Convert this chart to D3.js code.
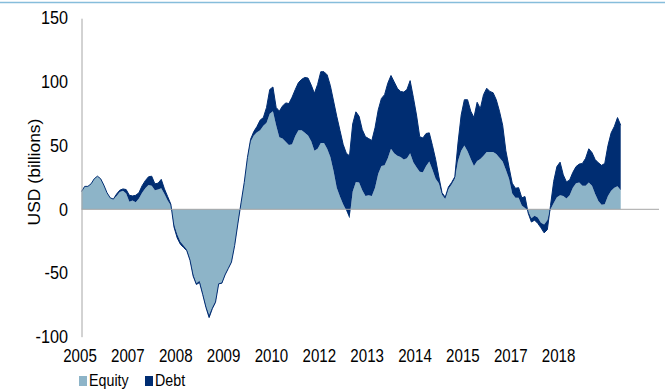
<!DOCTYPE html>
<html>
<head>
<meta charset="utf-8">
<script src="https://cdn.jsdelivr.net/npm/d3@7/dist/d3.min.js"></script>
<style>
  html, body { margin: 0; padding: 0; background: #ffffff; }
  svg { display: block; font-family: "Liberation Sans", Arial, sans-serif; }
</style>
</head>
<body>
<svg id="chart" width="665" height="389"></svg>
<script>
// Monthly net flows, USD billions (index 0 = Dec 2005)
const equity = [
  14, 18, 18, 20, 24, 26, 24, 19, 13, 9,
  8, 10.5, 13.5, 14.5, 12.5, 6, 7, 5.5, 8.5, 13,
  16.5, 19, 18.5, 15, 15.5, 16.5, 12, 7, 3, -12,
  -19.5, -25.5, -28.5, -31.5, -39, -51, -58, -56, -66, -76,
  -83, -77, -72, -58, -57.5, -51, -46, -41, -28, -11,
  5, 21, 40, 53, 58, 60.5, 62, 65.5, 68, 75,
  77, 66, 56.5, 55.5, 53, 50.5, 51, 57.5, 62, 62,
  60, 58, 53.5, 46, 47.5, 52, 52, 47.5, 41, 30,
  17, 10, 4, -1, -7, 14, 21.5, 21, 15, 10.5,
  11, 10.5, 17, 28, 34, 34.5, 40, 47.5, 44, 42,
  41, 39, 40, 44, 37, 33, 29.5, 29, 34, 37.5,
  31, 24, 20.5, 11.5, 8, 16, 19.5, 24, 38, 46,
  50, 45.5, 39.5, 34, 38, 39.5, 42, 45, 45, 45,
  43.5, 40.5, 37.5, 31, 24, 12.5, 9, 9, 3, 1,
  -1.5, -7, -5, -6.5, -10.5, -12, -8.5, 0, 5, 9.5,
  11, 10.5, 8.5, 11, 17, 20.5, 21, 18.5, 18.5, 21,
  18.5, 12, 6.5, 3.5, 4, 10.5, 14.5, 17, 18, 15
];
const debt = [
  0, 0, 0, 0, 0, 0, 0, 0, 0, 0,
  0, 1.5, 1.5, 1.5, 3, 5, 3.5, 5.5, 4.5, 5.5,
  6, 6.5, 7.5, 5, 5, 7, 4, 3, 1, -2,
  -3, -2, -1.5, -1, -1, -1.5, -1, -1.5, -1, -1,
  -2, -1, -1, -0.5, -0.5, -0.5, -0.5, -0.5, -0.5, -0.5,
  0, 0, 0.5, 2, 3, 4.5, 8, 6.5, 12, 19,
  19, 14, 20.5, 25.5, 30.5, 32.5, 37, 36.5, 37.5, 40,
  43.5, 45, 44, 45, 50.5, 56, 56, 58, 56, 55,
  56, 52, 47, 45, 49, 53, 55, 52, 47.5, 46.5,
  44.5, 43.5, 47, 50, 53, 55.5, 59, 57.5, 56, 53,
  51.5, 53, 54, 57, 51, 41, 27.5, 27, 25.5, 22.5,
  19, 15, 5, 1.5, 1.5, 1.5, 1.5, 1.5, 14, 28,
  36, 40.5, 37.5, 38, 46, 39.5, 48, 50, 47.5, 46.5,
  42.5, 36.5, 28.5, 15, 9, 8, 7.5, 8, 6, 9,
  -1.5, -3, -3.5, -4.5, -4, -6.5, -7.5, 3, 17, 24,
  26, 16.5, 13, 12, 12, 13, 14.5, 17.5, 21.5, 26.5,
  26, 27, 30, 31, 32, 39.5, 45.5, 48, 54, 51
];
const yTicks = [-100, -50, 0, 50, 100, 150];
const xTickLabels = ["2005", "2007", "2008", "2009", "2010", "2012", "2013", "2014", "2015", "2017", "2018"];
const xTickStep = 15;       // months between axis labels
const seriesNames = ["Equity", "Debt"];
const colors = { equity: "#8db4c8", debt: "#002d72" };

const rows = equity.map((e, i) => ({ i, e, t: e + debt[i] }));

const svg = d3.select("#chart");
const squeeze = 0.84;       // condensed lettering

// Thin rule across the top edge
svg.append("line")
  .attr("x1", 0).attr("x2", 665).attr("y1", 2.5).attr("y2", 2.5)
  .attr("stroke", "#86bddb").attr("stroke-width", 1.5);

const x = d3.scaleLinear().domain([0, 181]).range([81.5, 659]);
const y = d3.scaleLinear().domain([-100, 150]).range([336.7, 18.2]);

// Equity area from zero
svg.append("path")
  .datum(rows)
  .attr("fill", colors.equity)
  .attr("d", d3.area().x(d => x(d.i)).y0(y(0)).y1(d => y(d.e)));

// Debt stacked on equity
svg.append("path")
  .datum(rows)
  .attr("fill", colors.debt)
  .attr("d", d3.area().x(d => x(d.i)).y0(d => y(d.e)).y1(d => y(d.t)));

svg.append("path")
  .datum(rows)
  .attr("fill", "none")
  .attr("stroke", colors.debt)
  .attr("stroke-width", 1)
  .attr("d", d3.line().x(d => x(d.i)).y(d => y(d.t)));

// Zero line
svg.append("line")
  .attr("x1", x(0)).attr("x2", x(181))
  .attr("y1", y(0)).attr("y2", y(0))
  .attr("stroke", "#a6a6a6").attr("stroke-width", 1);

// Y axis
const yAxis = svg.append("g")
  .attr("transform", `translate(${x(0)},0)`)
  .call(d3.axisLeft(y).tickValues(yTicks).tickFormat(d => String(d))
    .tickSize(0).tickSizeOuter(0));
yAxis.select(".domain").attr("stroke", "#a6a6a6");
yAxis.selectAll("text")
  .attr("x", 0)
  .attr("transform", "translate(-13.5,0) scale(0.9,1)")
  .attr("font-size", 18)
  .attr("font-family", "Liberation Sans, Arial, sans-serif")
  .attr("fill", "#000");

// X axis labels
const xAxis = svg.append("g")
  .attr("transform", `translate(0,${y(-100)})`)
  .call(d3.axisBottom(x)
    .tickValues(xTickLabels.map((_, k) => k * xTickStep))
    .tickFormat((d, k) => xTickLabels[k])
    .tickSize(0).tickPadding(13));
xAxis.select(".domain").remove();
xAxis.selectAll("text")
  .attr("transform", `translate(-2,0) scale(${squeeze},1)`)
  .attr("font-size", 18)
  .attr("font-family", "Liberation Sans, Arial, sans-serif")
  .attr("fill", "#000");

// Y axis title
svg.append("text")
  .attr("transform", "translate(40,172) scale(0.9,1) rotate(-90)")
  .attr("text-anchor", "middle")
  .attr("font-size", 17.5)
  .attr("fill", "#000")
  .text("USD (billions)");

// Legend
const legend = svg.append("g");
const legendX = [79, 145];
seriesNames.forEach((name, k) => {
  legend.append("rect")
    .attr("x", legendX[k]).attr("y", 376)
    .attr("width", 8).attr("height", 10)
    .attr("fill", k === 0 ? colors.equity : colors.debt);
  legend.append("text")
    .attr("transform", `translate(${legendX[k] + 10},385.5) scale(${squeeze},1)`)
    .attr("font-size", 17)
    .attr("fill", "#000")
    .text(name);
});
</script>
</body>
</html>
